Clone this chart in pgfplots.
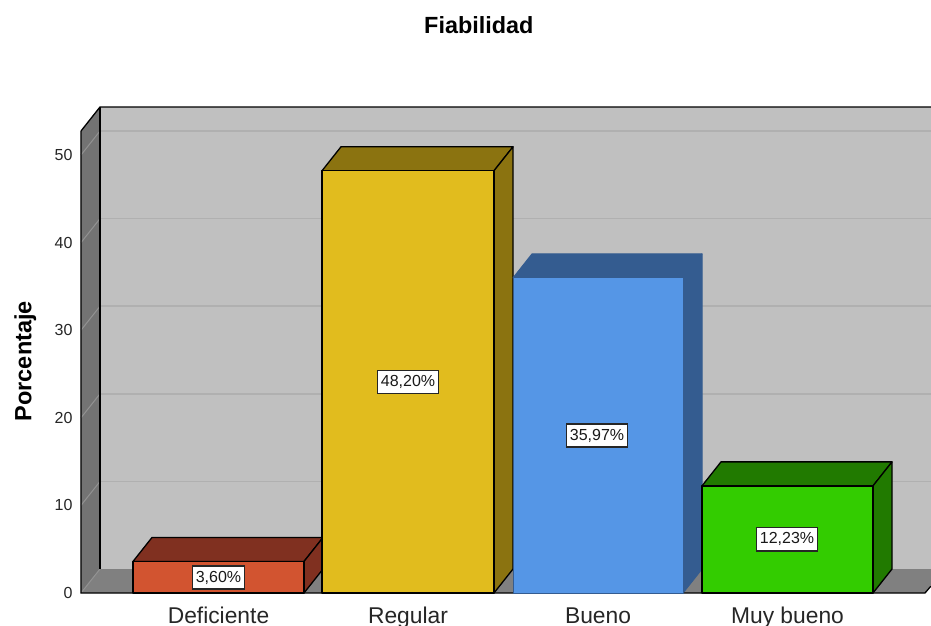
\documentclass[border=0pt]{standalone}
\usepackage{pgfplots}
\pgfplotsset{compat=1.18}
\usepackage{fontspec}
\setmainfont{Liberation Sans}
\definecolor{wall}{HTML}{C0C0C0}
\definecolor{sidewall}{HTML}{737373}
\definecolor{floorc}{HTML}{808080}
\definecolor{gridb}{HTML}{B0B0B0}
\definecolor{grids}{HTML}{929292}
\definecolor{redf}{HTML}{D25430}
\definecolor{redd}{HTML}{803020}
\definecolor{yelf}{HTML}{E1BC1E}
\definecolor{yeld}{HTML}{8B7310}
\definecolor{bluf}{HTML}{5596E6}
\definecolor{blud}{HTML}{345C90}
\definecolor{gref}{HTML}{33CC00}
\definecolor{gred}{HTML}{217A00}
\pgfplotsset{
  face/.style={draw=black, line width=1.3pt, line join=round, mark=none, fill=#1},
  bface/.style={draw=blud, line width=1pt, line join=round, mark=none, fill=#1},
  edge/.style={draw=#1, line width=1.3pt, mark=none, forget plot},
}
\begin{document}
\begin{tikzpicture}
\useasboundingbox (-81pt,-32pt) rectangle (850pt,593pt);
\begin{axis}[
  at={(0pt,0pt)}, anchor=south west,
  scale only axis, width=850pt, height=486pt,
  xmin=81, xmax=931, ymin=0, ymax=55.48,
  clip=false,
  axis line style={draw=none},
  major tick length=0pt,
  xtick={218.5,408,598,787.5},
  xticklabels={Deficiente,Regular,Bueno,Muy bueno},
  ytick={0,10,20,30,40,50},
  /pgf/number format/assume math mode=true,
  xticklabel style={font=\fontsize{22.8}{25}\selectfont, anchor=base, yshift=-30pt, text=black!85},
  yticklabel style={font=\fontsize{16}{18}\selectfont, anchor=east, xshift=-5pt, text=black!85},
  title={\bfseries Fiabilidad},
  title style={font=\fontsize{23.4}{25}\selectfont, at={(0.468,1.157)}, anchor=center, yshift=0pt},
  ylabel={\bfseries Porcentaje},
  ylabel style={font=\fontsize{23.5}{25}\selectfont, at={(-0.0655,0.477)}, anchor=center},
]
% walls and floor
\addplot[fill=wall, draw=none, mark=none, forget plot] coordinates {(100,2.74)(931,2.74)(931,55.48)(100,55.48)} -- cycle;
\addplot[fill=sidewall, draw=none, mark=none, forget plot] coordinates {(81,0)(100,2.74)(100,55.48)(81,52.74)} -- cycle;
\addplot[fill=floorc, draw=none, mark=none, forget plot] coordinates {(81,0)(100,2.74)(943,2.74)(925,0)} -- cycle;
% gridlines, back wall
\addplot[draw=gridb, line width=1.6pt, mark=none, forget plot] coordinates {(100,12.74)(931,12.74)};
\addplot[draw=gridb, line width=1.6pt, mark=none, forget plot] coordinates {(100,22.74)(931,22.74)};
\addplot[draw=gridb, line width=1.6pt, mark=none, forget plot] coordinates {(100,32.74)(931,32.74)};
\addplot[draw=gridb, line width=1.6pt, mark=none, forget plot] coordinates {(100,42.74)(931,42.74)};
\addplot[draw=gridb, line width=1.6pt, mark=none, forget plot] coordinates {(100,52.74)(931,52.74)};
% gridlines, side wall
\addplot[draw=grids, line width=1pt, mark=none, forget plot] coordinates {(81,10)(100,12.74)};
\addplot[draw=grids, line width=1pt, mark=none, forget plot] coordinates {(81,20)(100,22.74)};
\addplot[draw=grids, line width=1pt, mark=none, forget plot] coordinates {(81,30)(100,32.74)};
\addplot[draw=grids, line width=1pt, mark=none, forget plot] coordinates {(81,40)(100,42.74)};
\addplot[draw=grids, line width=1pt, mark=none, forget plot] coordinates {(81,50)(100,52.74)};
\addplot[draw=grids, line width=1pt, mark=none, forget plot] coordinates {(81,0)(100,2.74)};
% frame
\addplot[edge=black] coordinates {(81,52.74)(81,0)(925,0)(931,0.8)};
\addplot[edge=black] coordinates {(81,52.74)(100,55.48)(931,55.48)};
\addplot[edge=black] coordinates {(100,55.48)(100,2.74)};
% Deficiente
\addplot[face=redd, forget plot] coordinates {(133,3.60)(304,3.60)(323,6.34)(152,6.34)} -- cycle;
\addplot[face=redd, forget plot] coordinates {(304,0)(323,2.74)(323,6.34)(304,3.60)} -- cycle;
\addplot[face=redf, forget plot] coordinates {(133,0)(304,0)(304,3.60)(133,3.60)} -- cycle;
% Regular
\addplot[face=yeld, forget plot] coordinates {(322,48.20)(494,48.20)(513,50.94)(341,50.94)} -- cycle;
\addplot[face=yeld, forget plot] coordinates {(494,0)(513,2.74)(513,50.94)(494,48.20)} -- cycle;
\addplot[face=yelf, forget plot] coordinates {(322,0)(494,0)(494,48.20)(322,48.20)} -- cycle;
% Bueno
\addplot[bface=blud, forget plot] coordinates {(513,35.97)(683,35.97)(702,38.71)(532,38.71)} -- cycle;
\addplot[bface=blud, forget plot] coordinates {(683,0)(702,2.74)(702,38.71)(683,35.97)} -- cycle;
\addplot[bface=bluf, forget plot] coordinates {(513,0)(683,0)(683,35.97)(513,35.97)} -- cycle;
% Muy bueno
\addplot[face=gred, forget plot] coordinates {(702,12.23)(873,12.23)(892,14.97)(721,14.97)} -- cycle;
\addplot[face=gred, forget plot] coordinates {(873,0)(892,2.74)(892,14.97)(873,12.23)} -- cycle;
\addplot[face=gref, forget plot] coordinates {(702,0)(873,0)(873,12.23)(702,12.23)} -- cycle;
% value labels
\addplot[only marks, mark=none, forget plot, point meta=explicit symbolic,
  nodes near coords,
  every node near coord/.style={anchor=center, draw=black!85, fill=white, line width=1.3pt,
     font=\fontsize{16}{17}\selectfont, inner xsep=3.5pt, inner ysep=5pt, text=black!90}]
  coordinates {
   (218.5,1.77)[3,60\%]
   (408,24.1)[48,20\%]
   (597,17.98)[35,97\%]
   (787,6.12)[12,23\%]
  };
\end{axis}
\end{tikzpicture}
\end{document}
